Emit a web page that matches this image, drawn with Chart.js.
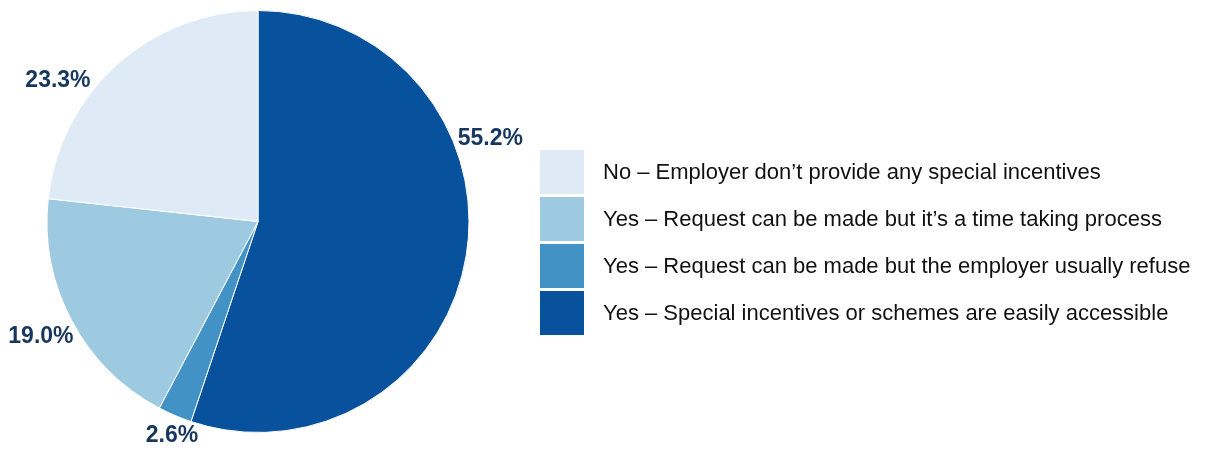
<!DOCTYPE html>
<html>
<head>
<meta charset="utf-8">
<script src="https://cdn.jsdelivr.net/npm/chart.js@4/dist/chart.umd.min.js"></script>
<style>
  body { margin: 0; background: #fff; }
  #wrap { position: relative; width: 1205px; height: 450px; }
  #legend { position: absolute; left: 540px; top: 150px; font-family: "Liberation Sans", Arial, sans-serif; font-size: 22px; color: #111; }
  .item { display: flex; align-items: center; height: 44px; margin-bottom: 3px; white-space: nowrap; }
  .box { width: 44px; height: 44px; margin-right: 19px; }
</style>
</head>
<body>
<div id="wrap">
  <canvas id="pie_chart" width="1205" height="450"></canvas>
  <div id="legend"></div>
</div>
<script>
// slices go clockwise from the top, legend lists them in reverse
const categories = [
  "Yes – Special incentives or schemes are easily accessible",
  "Yes – Request can be made but the employer usually refuse",
  "Yes – Request can be made but it’s a time taking process",
  "No – Employer don’t provide any special incentives"
];
const shares = [55.2, 2.6, 19.0, 23.3];
const sliceColors = ["#08519c", "#4292c6", "#9ecae1", "#deebf7"];
// where along each slice the label sits (0 = start, 1 = end)
const labelSpots = [0.355, 0.36, 0.5, 0.345];

const legendDiv = document.getElementById('legend');
for (let i = categories.length - 1; i >= 0; i--) {
  const item = document.createElement('div');
  item.className = 'item';
  const box = document.createElement('div');
  box.className = 'box';
  box.style.background = sliceColors[i];
  const txt = document.createElement('span');
  txt.textContent = categories[i];
  item.appendChild(box);
  item.appendChild(txt);
  legendDiv.appendChild(item);
}

// labels sit just outside the rim, text box kept a small gap from the arc
const outsideLabels = {
  id: 'outsideLabels',
  afterDatasetsDraw(chart) {
    const ctx = chart.ctx;
    const meta = chart.getDatasetMeta(0);
    ctx.save();
    ctx.font = 'bold 23px "Liberation Sans", Arial, sans-serif';
    ctx.fillStyle = '#17375e';
    ctx.textAlign = 'center';
    ctx.textBaseline = 'middle';
    meta.data.forEach((arc, i) => {
      const text = shares[i].toFixed(1) + '%';
      const w = ctx.measureText(text).width;
      const h = 17;
      const a = arc.startAngle + (arc.endAngle - arc.startAngle) * labelSpots[i];
      const ext = Math.abs(Math.cos(a)) * w / 2 + Math.abs(Math.sin(a)) * h / 2;
      const r = arc.outerRadius + 2 + ext;
      ctx.fillText(text, arc.x + Math.cos(a) * r, arc.y + Math.sin(a) * r);
    });
    ctx.restore();
  }
};

new Chart(document.getElementById('pie_chart'), {
  type: 'pie',
  data: {
    labels: categories,
    datasets: [{
      data: shares,
      backgroundColor: sliceColors,
      borderColor: '#ffffff',
      borderWidth: 1
    }]
  },
  options: {
    responsive: false,
    animation: false,
    layout: { padding: { left: 46, right: 735, top: 10, bottom: 17 } },
    plugins: {
      legend: { display: false },
      tooltip: { enabled: false }
    }
  },
  plugins: [outsideLabels]
});
</script>
</body>
</html>
